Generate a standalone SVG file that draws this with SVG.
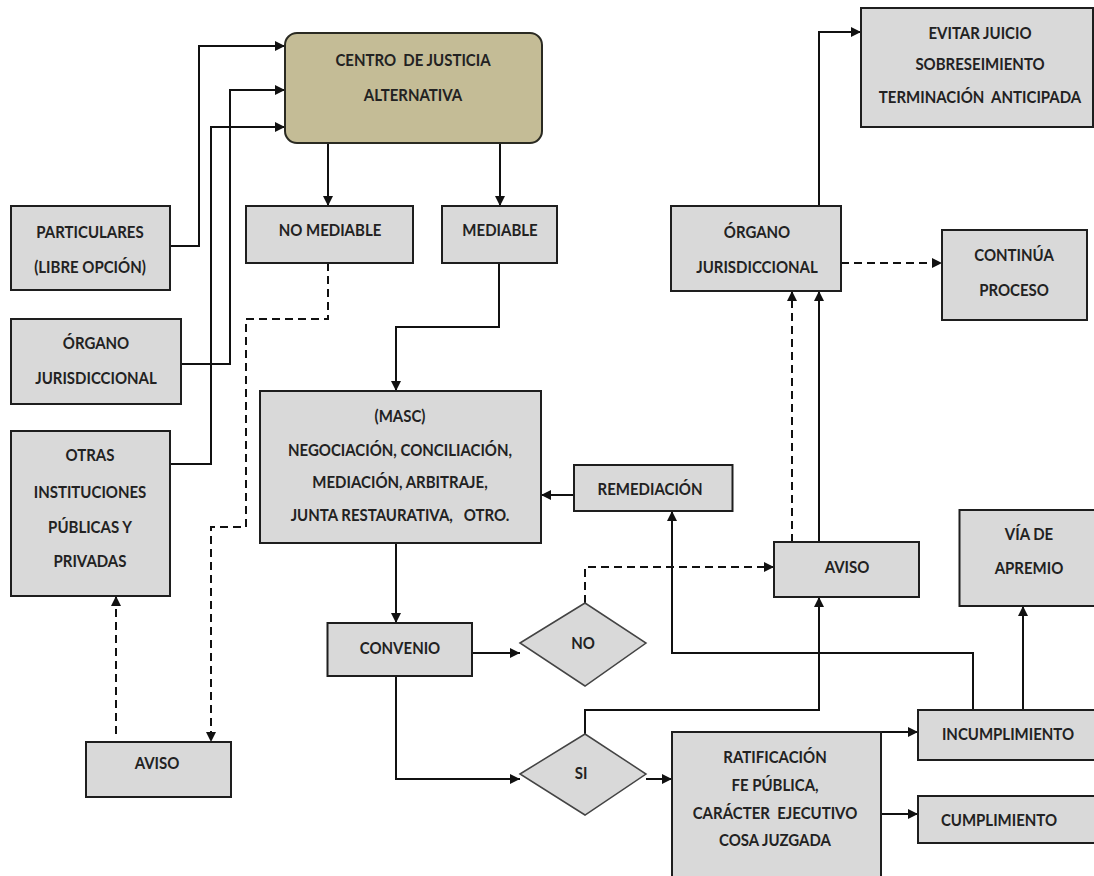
<svg xmlns="http://www.w3.org/2000/svg" width="1094" height="876" viewBox="0 0 1094 876">
<defs>
<marker id="ah" viewBox="0 0 10 10" refX="10" refY="5" markerWidth="10" markerHeight="10" markerUnits="userSpaceOnUse" orient="auto">
<path d="M0,0 L10,5 L0,10 z" fill="#111"/>
</marker>
<style>
.box{fill:#d9d9d9;stroke:#1e1e1e;stroke-width:2}
.main{fill:#c4bc96;stroke:#2a2a22;stroke-width:2}
.dia{fill:#d9d9d9;stroke:#444;stroke-width:1.5}
text{font-family:Lato,"Liberation Sans",Arial,sans-serif;font-size:15px;font-weight:bold;fill:#222;text-anchor:middle}
.c{fill:none;stroke:#111;stroke-width:2;marker-end:url(#ah)}
.d{stroke-dasharray:8 5}
</style>
</defs>
<rect width="1094" height="876" fill="#fff"/>
<g id="connectors">
<path class="c" d="M170,246 H199 V46 H285"/>
<path class="c" d="M181,364 H230 V90 H285"/>
<path class="c" d="M170,464 H211 V127 H285"/>
<path class="c" d="M328,143 V206"/>
<path class="c" d="M500,143 V206"/>
<path class="c d" d="M328,263 V319 H246 V527 H211 V742"/>
<path class="c d" d="M116,734 V596"/>
<path class="c" d="M499,263 V327 H396 V391"/>
<path class="c" d="M396,543 V623"/>
<path class="c" d="M472,653 H520"/>
<path class="c" d="M396,676 V779 H520"/>
<path class="c d" d="M585,603 V567 H774"/>
<path class="c" d="M585,734 V710 H819 V597"/>
<path class="c" d="M646,779 H672"/>
<path class="c" d="M881,732 H918"/>
<path class="c" d="M881,814 H918"/>
<path class="c" d="M973,710 V653 H672 V511"/>
<path class="c" d="M1023,710 V606"/>
<path class="c" d="M574,495 H541"/>
<path class="c d" d="M792,542 V291"/>
<path class="c" d="M819,542 V291"/>
<path class="c" d="M819,206 V32 H861"/>
<path class="c d" d="M841,263 H942"/>
</g>
<g id="centro"><rect class="main" x="285" y="33" width="257" height="110" rx="12"/><text transform="translate(413,66) scale(1,1.18)" xml:space="preserve">CENTRO  DE JUSTICIA</text><text transform="translate(413,101) scale(1,1.18)">ALTERNATIVA</text></g>
<g id="particulares"><rect class="box" x="11" y="206" width="159" height="84"/><text transform="translate(90,238) scale(1,1.18)">PARTICULARES</text><text transform="translate(90,273) scale(1,1.18)">(LIBRE OPCIÓN)</text></g>
<g id="organo-left"><rect class="box" x="11" y="319" width="170" height="85"/><text transform="translate(96,349) scale(1,1.18)">ÓRGANO</text><text transform="translate(96,384) scale(1,1.18)">JURISDICCIONAL</text></g>
<g id="otras"><rect class="box" x="11" y="431" width="159" height="165"/><text transform="translate(90,461) scale(1,1.18)">OTRAS</text><text transform="translate(90,498) scale(1,1.18)">INSTITUCIONES</text><text transform="translate(90,533) scale(1,1.18)">PÚBLICAS Y</text><text transform="translate(90,567) scale(1,1.18)">PRIVADAS</text></g>
<g id="aviso-left"><rect class="box" x="86" y="742" width="145" height="55"/><text transform="translate(157,769) scale(1,1.18)">AVISO</text></g>
<g id="no-mediable"><rect class="box" x="246" y="206" width="167" height="57"/><text transform="translate(330,236) scale(1,1.18)">NO MEDIABLE</text></g>
<g id="mediable"><rect class="box" x="442" y="206" width="115" height="57"/><text transform="translate(500,236) scale(1,1.18)">MEDIABLE</text></g>
<g id="masc"><rect class="box" x="260" y="391" width="281" height="152"/><text transform="translate(400,422) scale(1,1.18)">(MASC)</text><text transform="translate(400,456) scale(1,1.18)">NEGOCIACIÓN, CONCILIACIÓN,</text><text transform="translate(400,488) scale(1,1.18)">MEDIACIÓN, ARBITRAJE,</text><text transform="translate(400,521) scale(1,1.18)" xml:space="preserve">JUNTA RESTAURATIVA,   OTRO.</text></g>
<g id="convenio"><rect class="box" x="327.5" y="623" width="144.5" height="53"/><text transform="translate(400,654) scale(1,1.18)">CONVENIO</text></g>
<g id="no"><polygon class="dia" points="520,643 585,603 646,643 585,686"/><text transform="translate(583,649) scale(1,1.18)">NO</text></g>
<g id="si"><polygon class="dia" points="520,774 585,734 646,774 585,815"/><text transform="translate(581,779) scale(1,1.18)">SI</text></g>
<g id="ratificacion"><rect class="box" x="672" y="732" width="209" height="160"/><text transform="translate(775,763) scale(1,1.18)">RATIFICACIÓN</text><text transform="translate(775,791) scale(1,1.18)">FE PÚBLICA,</text><text transform="translate(775,819) scale(1,1.18)" xml:space="preserve">CARÁCTER  EJECUTIVO</text><text transform="translate(775,846) scale(1,1.18)">COSA JUZGADA</text></g>
<g id="incumplimiento"><rect class="box" x="918" y="710" width="190" height="50"/><text transform="translate(1008,740) scale(1,1.18)">INCUMPLIMIENTO</text></g>
<g id="cumplimiento"><rect class="box" x="918" y="796" width="190" height="47"/><text transform="translate(999,826) scale(1,1.18)">CUMPLIMIENTO</text></g>
<g id="via-apremio"><rect class="box" x="959.5" y="510" width="150" height="96"/><text transform="translate(1029,540) scale(1,1.18)">VÍA DE</text><text transform="translate(1029,574) scale(1,1.18)">APREMIO</text></g>
<g id="aviso-right"><rect class="box" x="774" y="542" width="145" height="55"/><text transform="translate(847,573) scale(1,1.18)">AVISO</text></g>
<g id="remediacion"><rect class="box" x="574" y="465" width="158.5" height="46"/><text transform="translate(650,495) scale(1,1.18)">REMEDIACIÓN</text></g>
<g id="organo-right"><rect class="box" x="671" y="206" width="170" height="85"/><text transform="translate(757,238) scale(1,1.18)">ÓRGANO</text><text transform="translate(757,273) scale(1,1.18)">JURISDICCIONAL</text></g>
<g id="continua"><rect class="box" x="942" y="230" width="145" height="90"/><text transform="translate(1014,261) scale(1,1.18)">CONTINÚA</text><text transform="translate(1014,296) scale(1,1.18)">PROCESO</text></g>
<g id="evitar"><rect class="box" x="861" y="8" width="232" height="119"/><text transform="translate(980,39) scale(1,1.18)">EVITAR JUICIO</text><text transform="translate(980,70) scale(1,1.18)">SOBRESEIMIENTO</text><text transform="translate(980,103) scale(1,1.18)" xml:space="preserve">TERMINACIÓN  ANTICIPADA</text></g>
</svg>
